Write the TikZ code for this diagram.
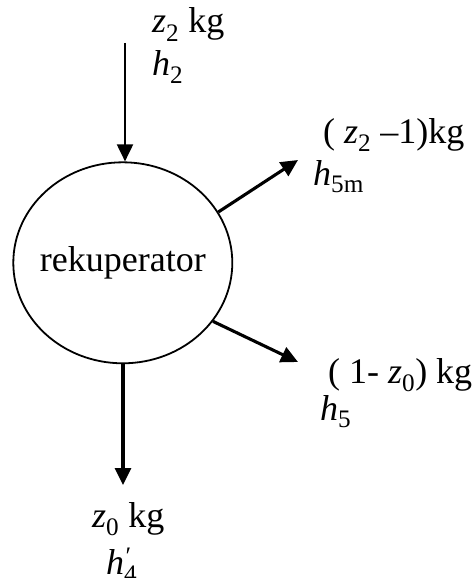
\documentclass[tikz,border=0pt]{standalone}
\usepackage{fontspec}
\setmainfont{Liberation Serif}
\usetikzlibrary{shapes.geometric,arrows.meta}
\newcommand{\mysub}[1]{\textsubscript{#1}}
\newcommand{\myvar}[1]{\textit{#1}}
\tikzset{
  lbl/.style={anchor=base west,inner sep=0pt,font=\fontsize{36}{40}\selectfont},
  thinarr/.style={line width=2pt,-{Triangle[length=17pt,width=16pt]}},
  arr/.style={line width=3.1pt,-{Triangle[length=17pt,width=16pt]}},
}
\begin{document}
\begin{tikzpicture}[x=1pt,y=-1pt]
\useasboundingbox (0,0) rectangle (475,578);
\clip (0,0) rectangle (475,578);
\node[ellipse,draw,line width=1.8pt,minimum width=219pt,minimum height=201pt,inner sep=0pt] (rek) at (122.8,262.8) {};
\node[inner sep=0pt,font=\fontsize{36}{40}\selectfont] (rektext) at (rek.center) {rekuperator};
\coordinate (top) at (125,43);
\coordinate (c5m) at (298,160);
\coordinate (c5) at (298,362);
\coordinate (bot) at (123,485);
\draw[thinarr] (top) -- (top |- rek.north);
\draw[arr] (rek.28) -- (c5m);
\draw[arr] (rek.-33) -- (c5);
\draw[arr] (rek.south -| bot) -- (bot);
\node[lbl] (t1) at (152,33) {\myvar{z}\mysub{2} kg};
\node[lbl] (t2) at (152,75) {\myvar{h}\mysub{2}};
\node[lbl] (t3) at (323,143) {( \myvar{z}\mysub{2} –1)kg};
\node[lbl] (t4) at (313,185) {\myvar{h}\mysub{5m}};
\node[lbl] (t5) at (328,383) {( 1- \myvar{z}\mysub{0}) kg};
\node[lbl] (t6) at (320,420) {\myvar{h}\mysub{5}};
\node[lbl] (t7) at (92,527) {\myvar{z}\mysub{0} kg};
\node[lbl] (t8) at (106,574) {\myvar{h}\rlap{\textsuperscript{\itshape ′}}\mysub{4}};
\end{tikzpicture}
\end{document}
